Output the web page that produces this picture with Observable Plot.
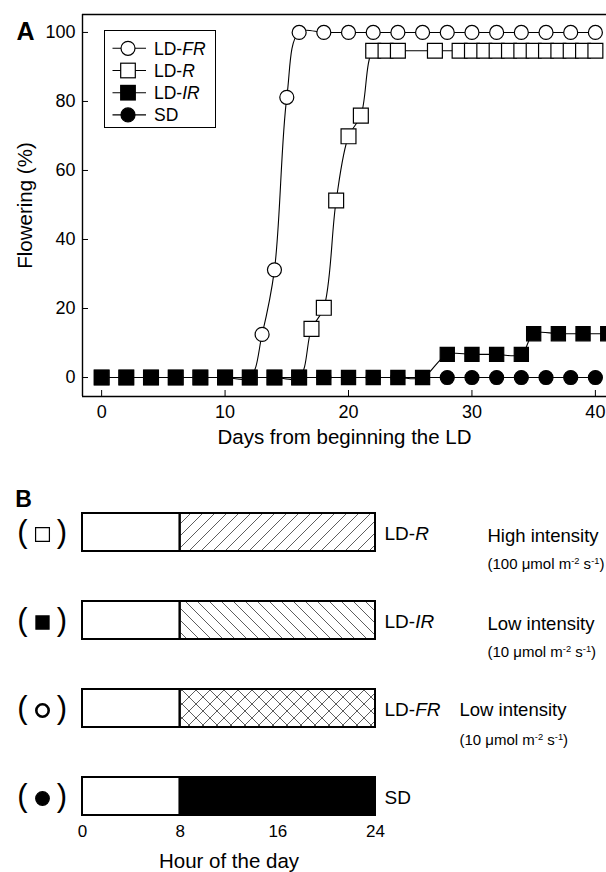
<!DOCTYPE html>
<html>
<head>
<meta charset="utf-8">
<script src="https://cdn.jsdelivr.net/npm/d3@7"></script>
<script src="https://cdn.jsdelivr.net/npm/@observablehq/plot@0.6"></script>
<style>
  html, body { margin: 0; padding: 0; background: #fff; overflow: hidden; }
  #chart svg { display: block; }
</style>
</head>
<body>
<div id="chart"></div>
<script>
// ---- Panel A: flowering percentage over days from the start of LD ----
const dayTicks = [0, 10, 20, 30, 40];
const pctTicks = [0, 20, 40, 60, 80, 100];

const frDays = [0, 2, 4, 6, 8, 10, 12, 13, 14, 15, 16, 18, 20, 22, 24, 26, 28, 30, 32, 34, 36, 38, 40];
const frPct  = [0, 0, 0, 0, 0, 0, 0, 12.5, 31.2, 81.2, 100, 100, 100, 100, 100, 100, 100, 100, 100, 100, 100, 100, 100];

const rDays = [0, 2, 4, 6, 8, 10, 12, 14, 16, 17, 18, 19, 20, 21, 22, 23, 24, 27, 29, 30, 31, 32, 33, 34, 35, 36, 37, 38, 39, 40];
const rPct  = [0, 0, 0, 0, 0, 0, 0, 0, 0, 14.1, 20.2, 51.3, 69.9, 75.9, 94.7, 94.7, 94.7, 94.7, 94.7, 94.7, 94.7, 94.7, 94.7, 94.7, 94.7, 94.7, 94.7, 94.7, 94.7, 94.7];

const irDays = [0, 2, 4, 6, 8, 10, 12, 14, 16, 18, 20, 22, 24, 26, 28, 30, 32, 34, 35, 37, 39, 41];
const irPct  = [0, 0, 0, 0, 0, 0, 0, 0, 0, 0, 0, 0, 0, 0, 6.7, 6.7, 6.7, 6.7, 12.7, 12.7, 12.7, 12.7];

const sdDays = [0, 2, 4, 6, 8, 10, 12, 14, 16, 18, 20, 22, 24, 26, 28, 30, 32, 34, 36, 38, 40];
const sdPct  = [0, 0, 0, 0, 0, 0, 0, 0, 0, 0, 0, 0, 0, 0, 0, 0, 0, 0, 0, 0, 0];

const seriesNames   = ["LD-FR", "LD-R", "LD-IR", "SD"];
const seriesSymbols = ["circle", "square", "square", "circle"];
const seriesFills   = ["white", "white", "black", "black"];

// ---- Panel B: light regime of each treatment ----
const rows        = ["LD-R", "LD-IR", "LD-FR", "SD"];
const rowSymbols  = ["square", "square", "circle", "circle"];
const rowFills    = ["white", "black", "white", "black"];
const lightHours  = [8, 8, 8, 8];
const dayHours    = [24, 24, 24, 24];
const extraFills  = ["url(#hatch-r)", "url(#hatch-ir)", "url(#hatch-fr)", "black"];
const intensity   = ["High intensity", "Low intensity", "Low intensity", ""];
const fluence     = ["(100 μmol m-2 s-1)", "(10 μmol m-2 s-1)", "(10 μmol m-2 s-1)", ""];
const hourTicks   = [0, 8, 16, 24];

const FONT = "'Liberation Sans', Arial, Helvetica, sans-serif";

const seriesData = {
  "LD-FR": [frDays, frPct],
  "LD-R": [rDays, rPct],
  "LD-IR": [irDays, irPct],
  "SD": [sdDays, sdPct]
};
const points = seriesNames.flatMap(name => {
  const [days, pct] = seriesData[name];
  return days.map((d, i) => ({series: name, day: d, value: pct[i]}));
});

const xDomain = [-1.55, 40.9];
const yDomain = [-5.5, 105.2];

// dots are stacked so the black squares sit on top
const dotOrder = ["SD", "LD-FR", "LD-R", "LD-IR"];
const dotMarks = dotOrder.map(name => {
  const k = seriesNames.indexOf(name);
  const isSquare = seriesSymbols[k] === "square";
  return Plot.dot(points.filter(p => p.series === name), {
    x: "day", y: "value",
    symbol: seriesSymbols[k],
    r: isSquare ? (name === "LD-IR" ? 8.0 : 8.4) : 7,
    fill: seriesFills[k], stroke: "black", strokeWidth: 1.2
  });
});

const plotA = Plot.plot({
  width: 606, height: 452,
  marginTop: 14, marginBottom: 56, marginLeft: 82, marginRight: 0,
  style: {fontFamily: FONT, fontSize: "18px", color: "black", background: "white"},
  x: {domain: xDomain},
  y: {domain: yDomain},
  marks: [
    Plot.axisX({ticks: dayTicks, tickSize: 0, tickPadding: 9, fontSize: 18, label: null}),
    Plot.axisY({ticks: pctTicks, tickSize: 0, tickPadding: 7, fontSize: 18, label: null}),
    // inward tick marks
    Plot.ruleX(dayTicks, {x: d => d, insetTop: 376, stroke: "black", strokeWidth: 1}),
    Plot.ruleY(pctTicks, {y: d => d, insetRight: 518, stroke: "black", strokeWidth: 1}),
    // frame: left, top, bottom
    Plot.ruleX([xDomain[0]], {stroke: "black", strokeWidth: 1.4}),
    Plot.ruleY([yDomain[0], yDomain[1]], {stroke: "black", strokeWidth: 1.4}),
    Plot.line(points, {x: "day", y: "value", z: "series", curve: "catmull-rom", stroke: "black", strokeWidth: 1.1}),
    ...dotMarks,
    Plot.text(["Days from beginning the LD"], {frameAnchor: "bottom", dy: 41, textAnchor: "middle", lineAnchor: "middle", fontSize: 20.5}),
    Plot.text(["Flowering (%)"], {frameAnchor: "left", dx: -57, rotate: -90, textAnchor: "middle", lineAnchor: "middle", fontSize: 20.5}),
    Plot.text(["A"], {frameAnchor: "top-left", dx: -57, dy: 17, textAnchor: "middle", lineAnchor: "middle", fontSize: 25, fontWeight: "bold"})
  ]
});

// legend box for panel A
{
  const svg = d3.select(plotA);
  const g = svg.append("g").attr("font-family", FONT).attr("font-size", 17.5).attr("text-anchor", "start");
  g.append("rect").attr("x", 104.5).attr("y", 30.5).attr("width", 111).attr("height", 97)
    .attr("fill", "white").attr("stroke", "black").attr("stroke-width", 1);
  seriesNames.forEach((name, i) => {
    const y = 48.3 + i * 22.2;
    g.append("line").attr("x1", 112.5).attr("x2", 146).attr("y1", y).attr("y2", y)
      .attr("stroke", "black").attr("stroke-width", 1.1);
    if (seriesSymbols[i] === "circle") {
      g.append("circle").attr("cx", 128).attr("cy", y).attr("r", 7)
        .attr("fill", seriesFills[i]).attr("stroke", "black").attr("stroke-width", 1.2);
    } else {
      g.append("rect").attr("x", 128 - 7.3).attr("y", y - 7.3).attr("width", 14.6).attr("height", 14.6)
        .attr("fill", seriesFills[i]).attr("stroke", "black").attr("stroke-width", 1.2);
    }
    g.append("text").attr("x", 154).attr("y", y).attr("dy", "0.36em").attr("fill", "black")
      .attr("text-anchor", "start").text(name);
  });
}

// ---- Panel B plot ----
const bars = rows.flatMap((row, i) => [
  {row, start: 0, end: lightHours[i], fill: "white"},
  {row, start: lightHours[i], end: dayHours[i], fill: extraFills[i]}
]);
const rowInfo = rows.map((row, i) => ({row, intensity: intensity[i], fluence: fluence[i], symbol: rowSymbols[i], fill: rowFills[i]}));

const symbolMarks = rowInfo.map(d => Plot.dot([d], {
  y: "row", frameAnchor: "left", dx: -40, dy: 2,
  symbol: d.symbol,
  r: d.symbol === "square" ? (d.fill === "white" ? 7.8 : 7.4) : (d.fill === "white" ? 6.2 : 6.8),
  fill: d.fill, stroke: "black",
  strokeWidth: d.symbol === "circle" && d.fill === "white" ? 2.6 : 1.2
}));

const parenStyle = {fontFamily: FONT, fontSize: 31, lineAnchor: "middle", textAnchor: "middle"};

const plotB = Plot.plot({
  width: 606, height: 420,
  marginTop: 60, marginBottom: 56, marginLeft: 82, marginRight: 231,
  style: {fontFamily: FONT, fontSize: "16px", color: "black", background: "white"},
  x: {domain: [0, 24]},
  y: {domain: rows, paddingInner: 0.573, paddingOuter: 0, axis: null},
  color: {type: "identity"},
  marks: [
    Plot.barX(bars, {x1: "start", x2: "end", y: "row", fill: "fill", stroke: "black", strokeWidth: 2}),
    Plot.axisX({ticks: hourTicks, tickSize: 0, tickPadding: 8, fontSize: 17, label: null}),
    Plot.text(["Hour of the day"], {frameAnchor: "bottom", dy: 45, textAnchor: "middle", lineAnchor: "middle", fontSize: 20.5}),
    Plot.text(rowInfo, {y: "row", text: () => "(", frameAnchor: "left", dx: -60, dy: 0, ...parenStyle}),
    Plot.text(rowInfo, {y: "row", text: () => ")", frameAnchor: "left", dx: -20.5, dy: 0, ...parenStyle}),
    ...symbolMarks,
    Plot.text(rowInfo, {y: "row", text: "row", frameAnchor: "right", dx: 9, dy: 1, textAnchor: "start", lineAnchor: "middle", fontSize: 19}),
    Plot.text(rowInfo.filter(d => d.row !== "LD-FR"), {y: "row", text: "intensity", frameAnchor: "right", dx: 112, dy: 4, textAnchor: "start", lineAnchor: "middle", fontSize: 18.5}),
    Plot.text(rowInfo.filter(d => d.row !== "LD-FR"), {y: "row", text: "fluence", frameAnchor: "right", dx: 112, dy: 32, textAnchor: "start", lineAnchor: "middle", fontSize: 15}),
    Plot.text(rowInfo.filter(d => d.row === "LD-FR"), {y: "row", text: "intensity", frameAnchor: "right", dx: 84, dy: 2, textAnchor: "start", lineAnchor: "middle", fontSize: 18.5}),
    Plot.text(rowInfo.filter(d => d.row === "LD-FR"), {y: "row", text: "fluence", frameAnchor: "right", dx: 84, dy: 32, textAnchor: "start", lineAnchor: "middle", fontSize: 15}),
    Plot.text(["B"], {frameAnchor: "top-left", dx: -59, dy: -13, textAnchor: "middle", lineAnchor: "middle", fontSize: 23, fontWeight: "bold"})
  ]
});

// hatch patterns for the extended-light part of each bar
{
  const svg = d3.select(plotB);
  const defs = svg.insert("defs", ":first-child");
  const addPattern = (id, size, d) => {
    defs.append("pattern").attr("id", id).attr("patternUnits", "userSpaceOnUse")
      .attr("width", size).attr("height", size)
      .append("path").attr("d", d).attr("stroke", "#333").attr("stroke-width", 0.8).attr("fill", "none");
  };
  addPattern("hatch-r", 12, "M-3,3L3,-3M0,12L12,0M9,15L15,9");
  addPattern("hatch-ir", 12, "M-3,9L3,15M0,0L12,12M9,-3L15,3");
  addPattern("hatch-fr", 14, "M-3,3L3,-3M0,14L14,0M11,17L17,11M-3,11L3,17M0,0L14,14M11,-3L17,3");
}

// italic suffix in treatment names and superscript units
function styleTexts(svgNode) {
  d3.select(svgNode).selectAll("text").each(function () {
    const el = d3.select(this);
    const t = this.textContent;
    const m = /^LD-(.+)$/.exec(t);
    if (m) {
      el.text(null);
      el.append("tspan").text("LD-");
      el.append("tspan").attr("font-style", "italic").text(m[1]);
      return;
    }
    const u = /^(.*m)-2 s-1\)$/.exec(t);
    if (u) {
      el.text(null);
      el.append("tspan").text(u[1]);
      el.append("tspan").attr("font-size", "0.62em").attr("dy", "-0.55em").text("-2");
      el.append("tspan").attr("dy", "0.34em").text(" s");
      el.append("tspan").attr("font-size", "0.62em").attr("dy", "-0.55em").text("-1");
      el.append("tspan").attr("dy", "0.34em").text(")");
    }
  });
}
styleTexts(plotA);
styleTexts(plotB);

const chart = document.getElementById("chart");
chart.appendChild(plotA);
chart.appendChild(plotB);
</script>
</body>
</html>
